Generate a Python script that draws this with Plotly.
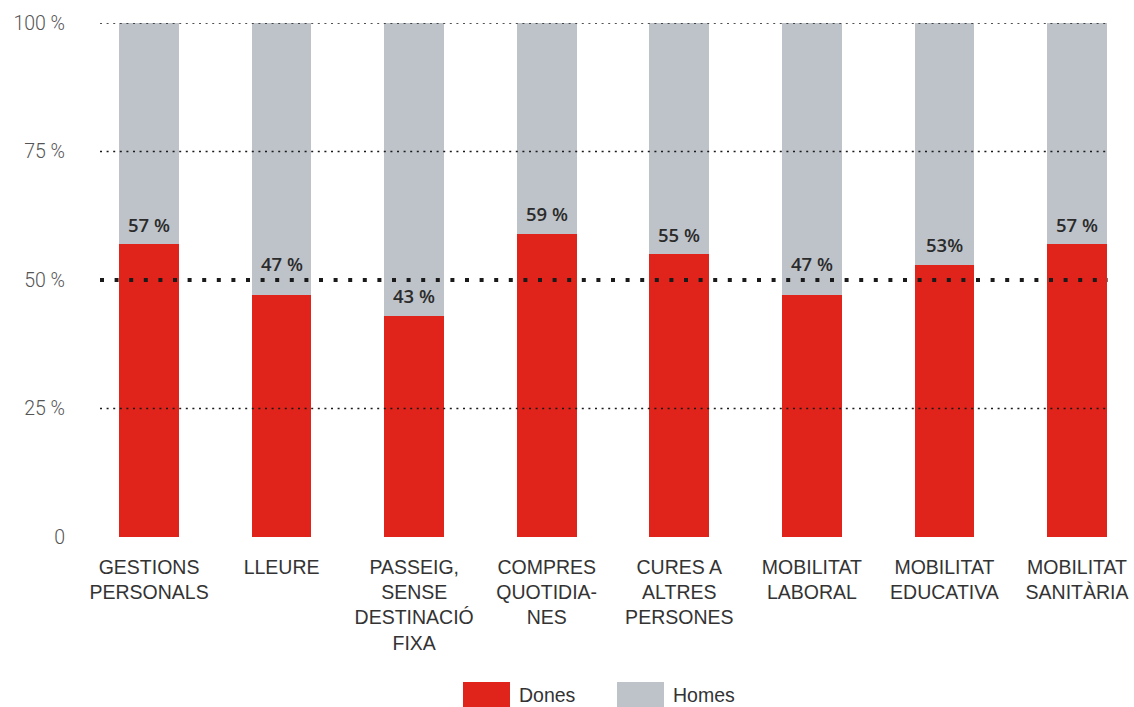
import plotly.graph_objects as go

# Trip purposes (x categories), shown as multi-line labels
categories = [
    "GESTIONS<br>PERSONALS",
    "LLEURE",
    "PASSEIG,<br>SENSE<br>DESTINACIÓ<br>FIXA",
    "COMPRES<br>QUOTIDIA-<br>NES",
    "CURES A<br>ALTRES<br>PERSONES",
    "MOBILITAT<br>LABORAL",
    "MOBILITAT<br>EDUCATIVA",
    "MOBILITAT<br>SANITÀRIA",
]
# Share of trips made by women (%)
dones = [57, 47, 43, 59, 55, 47, 53, 57]
# Share of trips made by men (%)
homes = [100 - v for v in dones]
# Value labels printed above the red segment
dones_labels = ["57 %", "47 %", "43 %", "59 %", "55 %", "47 %", "53%", "57 %"]
# Y axis ticks
y_ticks = [0, 25, 50, 75, 100]
y_tick_text = ["0", "25 %", "50 %", "75 %", "100 %"]
# Legend entries
legend_names = ["Dones", "Homes"]

RED = "#E1241B"
GREY = "#BEC3C9"
TEXT = "#2b2b2b"
PARITY = 50

xs = list(range(len(categories)))
W, H = 1134, 707
ML, MR, MT, MB = 100, 0, 23, 170
PW = W - ML - MR
PH = H - MT - MB


def px_x(p):
    return (p - ML) / PW


def px_y(p):
    return (H - MB - p) / PH


fig = go.Figure()
fig.add_trace(go.Bar(x=xs, y=dones, name=legend_names[0], marker_color=RED,
                     marker_line_width=0, width=0.45, showlegend=False))
fig.add_trace(go.Bar(x=xs, y=homes, name=legend_names[1], marker_color=GREY,
                     marker_line_width=0, width=0.45, showlegend=False))

# Value labels; lifted clear of the parity line when they would sit on it
for x, v, t in zip(xs, dones, dones_labels):
    lift = 32 if PARITY - 6 < v < PARITY else 20
    fig.add_annotation(x=x, y=v, text=t, showarrow=False, yanchor="middle",
                       yshift=lift, font=dict(family="Open Sans", size=18.5,
                                              color=TEXT, weight=600))

# Dotted reference lines drawn over the bars
for t in y_ticks:
    if t == 0:
        continue
    if t == PARITY:
        line = dict(color="#1a1a1a", width=4, dash="4px,10.6px")
    else:
        line = dict(color="#1a1a1a", width=1.3, dash="2px,4.6px")
    fig.add_shape(type="line", xref="paper", yref="y", x0=0,
                  x1=px_x(1108), y0=t, y1=t, line=line, layer="above")

# Legend built from large swatches
legend_items = [(463, 517, RED, legend_names[0]),
                (617, 671, GREY, legend_names[1])]
for sx, tx, col, name in legend_items:
    fig.add_shape(type="rect", xref="paper", yref="paper",
                  x0=px_x(sx), x1=px_x(sx + 47), y0=px_y(682), y1=px_y(708),
                  fillcolor=col, line_width=0)
    fig.add_annotation(xref="paper", yref="paper", x=px_x(tx), y=px_y(695),
                       text=name, showarrow=False, xanchor="left",
                       yanchor="middle",
                       font=dict(family="Liberation Sans", size=19.5,
                                 color="#333333"))

fig.update_layout(
    width=W, height=H,
    margin=dict(l=ML, r=MR, t=MT, b=MB, pad=0),
    barmode="stack",
    bargap=0,
    plot_bgcolor="white",
    paper_bgcolor="white",
    xaxis=dict(range=[-0.37, 7.43], tickvals=xs, ticktext=categories,
               showgrid=False, zeroline=False, showline=False, ticks="",
               ticklabelstandoff=16,
               tickfont=dict(family="Liberation Sans", size=19.5,
                             color="#333333")),
    yaxis=dict(range=[0, 100], tickvals=y_ticks, ticktext=y_tick_text,
               showgrid=False, zeroline=False, showline=False, ticks="",
               ticklabelstandoff=34,
               tickfont=dict(family="Roboto", size=19.5, color="#555555",
                             weight=300)),
)

fig.write_html("out.html")
